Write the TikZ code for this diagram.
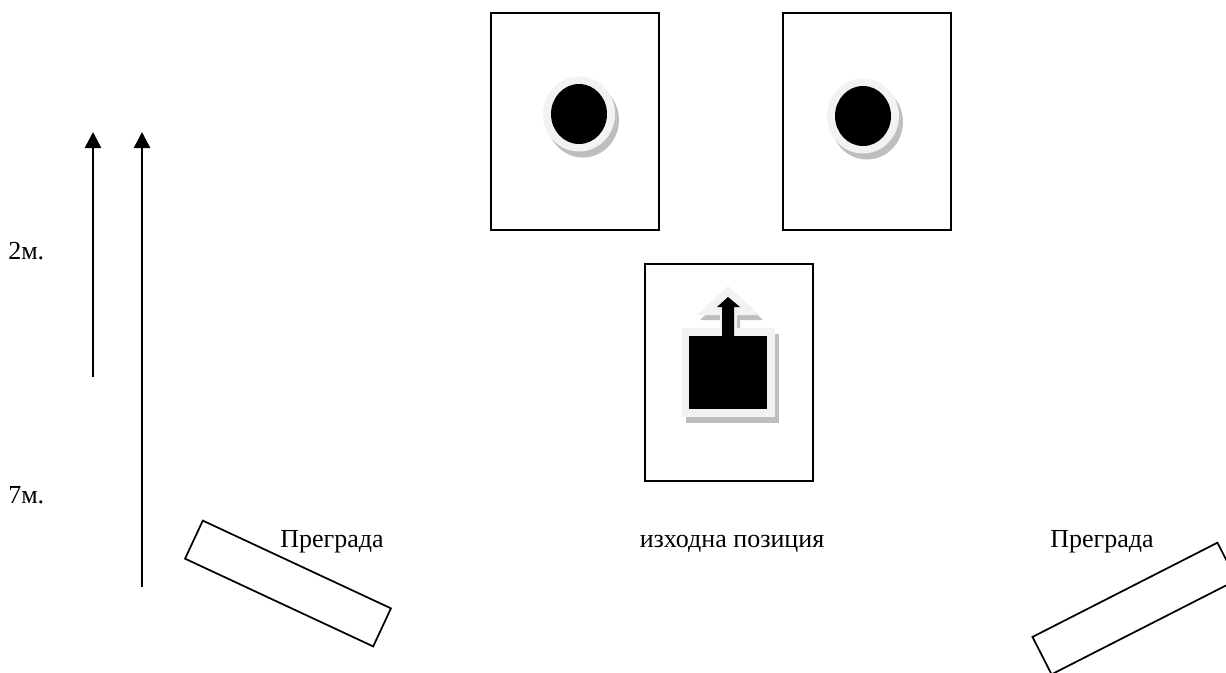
\documentclass[tikz,border=0pt]{standalone}
\usepackage{fontspec}
\setmainfont{Liberation Serif}
\usetikzlibrary{arrows.meta}
\definecolor{rimgray}{HTML}{F2F2F2}
\definecolor{shadowgray}{HTML}{BEBEBE}
\begin{document}
\begin{tikzpicture}[x=0.75pt,y=-0.75pt]
\tikzstyle{every node}+=[inner sep=0pt]
\tikzstyle{field}=[draw=black, line width=1.5pt, minimum width=126pt, minimum height=162.75pt]
\tikzstyle{barrier}=[draw=black, line width=1.3pt, minimum width=155.7pt, minimum height=31.5pt]
\tikzstyle{label}=[font=\fontsize{19.5}{23}\selectfont, anchor=base]
\tikzstyle{run}=[black, line width=2pt, -{Triangle[width=12pt,length=12pt]}]
\useasboundingbox (0,0) rectangle (1226,672);
\clip (0,0) rectangle (1226,672);
% fields
\node [field] (goalA) at (575,121.5) {};
\node [field] (goalB) at (867,121.5) {};
\node [field] (start) at (729,372.5) {};
% targets
\fill [shadowgray] (583,120) ellipse (36 and 37.5);
\fill [rimgray] (579,114) ellipse (36 and 37.5);
\fill [black] (579,114) ellipse (28 and 30);
\fill [shadowgray] (867,122) ellipse (36 and 37.5);
\fill [rimgray] (863,116) ellipse (36 and 37.5);
\fill [black] (863,116) ellipse (28 and 30);
% start icon
\fill [shadowgray] (731,291) -- (763,320) -- (740,320) -- (740,335) -- (723,335) -- (723,320) -- (700,320) -- cycle;
\fill [shadowgray] (686,334) rectangle (779,423);
\fill [rimgray] (728,286) -- (760,315) -- (737,315) -- (737,330) -- (720,330) -- (720,315) -- (697,315) -- cycle;
\fill [rimgray] (682,328) rectangle (775,417);
\fill [black] (689,336) rectangle (767,409);
\fill [black] (728,297) -- (740,307) -- (734,307) -- (734,338) -- (722,338) -- (722,307) -- (717,307) -- cycle;
% barriers
\node [barrier, rotate=-25] (wallL) at (288,583.5) {};
\node [barrier, rotate=27] (wallR) at (1134.5,608.5) {};
% labels
\node [label] (wallLtext) at (332,547) {Преграда};
\node [label] (starttext) at (732,547) {изходна позиция};
\node [label] (wallRtext) at (1102,547) {Преграда};
\node [label, anchor=base west] (twom) at (8,259) {2м.};
\node [label, anchor=base west] (sevenm) at (8,503) {7м.};
% distances
\coordinate (shortfoot) at (93,377);
\coordinate (shorttip) at (93,132);
\coordinate (longfoot) at (142,587);
\coordinate (longtip) at (142,132);
\draw [run] (shortfoot) -- (shorttip);
\draw [run] (longfoot) -- (longtip);
\end{tikzpicture}
\end{document}
